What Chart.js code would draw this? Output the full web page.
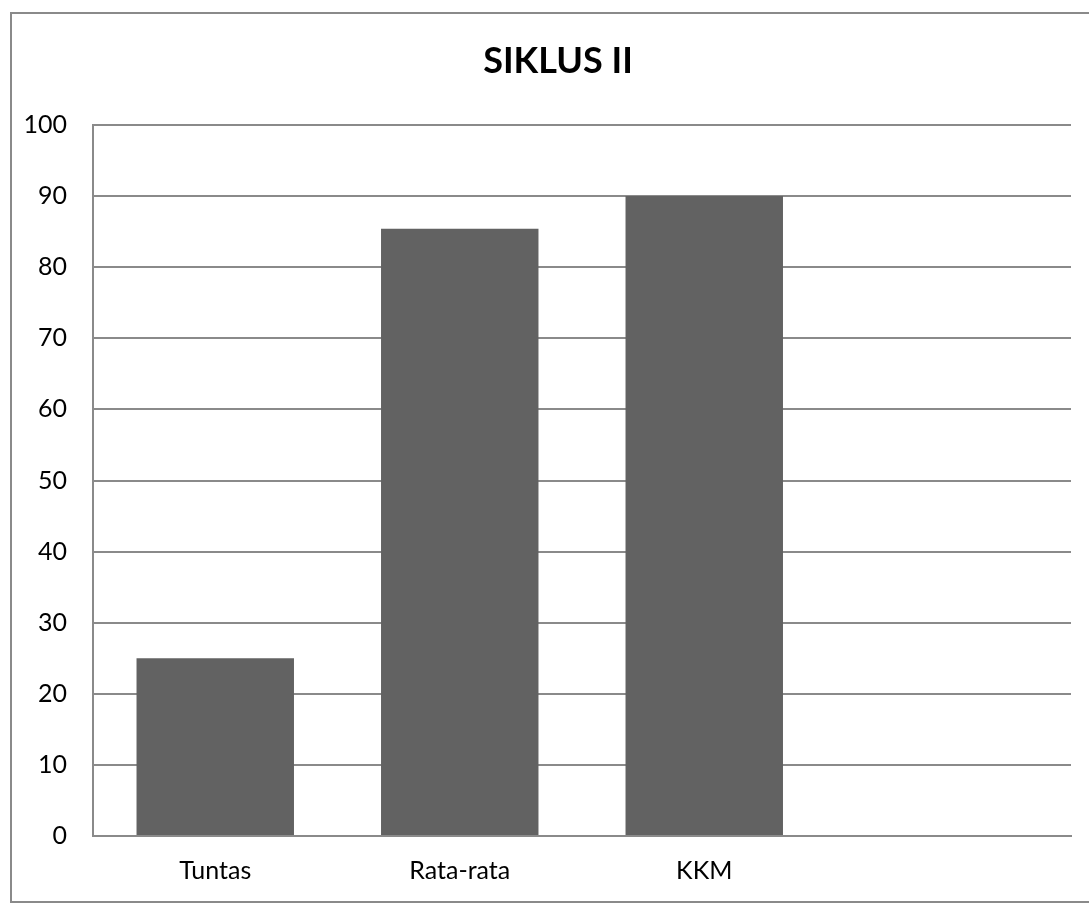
<!DOCTYPE html>
<html>
<head>
<meta charset="utf-8">
<script src="https://cdn.jsdelivr.net/npm/chart.js@4/dist/chart.umd.min.js"></script>
<style>
  html, body { margin: 0; padding: 0; background: #ffffff; }
  #wrap { position: relative; width: 1089px; height: 903px; overflow: hidden; }
  #frame {
    position: absolute; left: 10px; top: 12px; width: 1100px; height: 887px;
    border: 2px solid #8a8a8a; box-sizing: content-box; pointer-events: none;
  }
  canvas { position: absolute; left: 0; top: 0; }
</style>
</head>
<body>
<div id="wrap">
  <canvas id="chart" width="1089" height="903"></canvas>
  <div id="frame"></div>
</div>
<script>
// Cycle II results
const chartTitle = 'SIKLUS II';
const categories = ['Tuntas', 'Rata-rata', 'KKM', ''];
const values = [25, 85.4, 90, null];
const yMin = 0;
const yMax = 100;
const yStep = 10;

const labelFont = { family: 'Lato, "Open Sans", sans-serif', size: 25 };
const gridColor = '#8a8a8a';

// Chart title, centred over the chart frame rather than the canvas
const frameTitle = {
  id: 'frameTitle',
  afterDraw(chart) {
    const ctx = chart.ctx;
    ctx.save();
    ctx.font = 'bold 36px Lato, "Open Sans", sans-serif';
    ctx.fillStyle = '#000000';
    ctx.textAlign = 'center';
    ctx.textBaseline = 'alphabetic';
    ctx.fillText(chartTitle, 558, 73);
    ctx.restore();
  }
};

new Chart(document.getElementById('chart'), {
  type: 'bar',
  data: {
    labels: categories,
    datasets: [{
      data: values,
      backgroundColor: '#626262',
      borderWidth: 0,
      categoryPercentage: 1.0,
      barPercentage: 0.644
    }]
  },
  plugins: [frameTitle],
  options: {
    responsive: false,
    animation: false,
    devicePixelRatio: 1,
    layout: { padding: { left: 0, right: 18, top: 125, bottom: 0 } },
    plugins: {
      legend: { display: false },
      tooltip: { enabled: false },
      title: { display: false }
    },
    scales: {
      x: {
        grid: { display: false, drawTicks: false },
        border: { display: true, color: gridColor, width: 2 },
        ticks: { color: '#000000', font: labelFont, padding: 20, maxRotation: 0 },
        afterFit: (scale) => { scale.height = 67; }
      },
      y: {
        min: yMin,
        max: yMax,
        ticks: { stepSize: yStep, color: '#000000', font: labelFont, padding: 26 },
        grid: { color: gridColor, lineWidth: 2, drawTicks: false },
        border: { display: true, color: gridColor, width: 2 },
        afterFit: (scale) => { scale.width = 93; }
      }
    }
  }
});
</script>
</body>
</html>
